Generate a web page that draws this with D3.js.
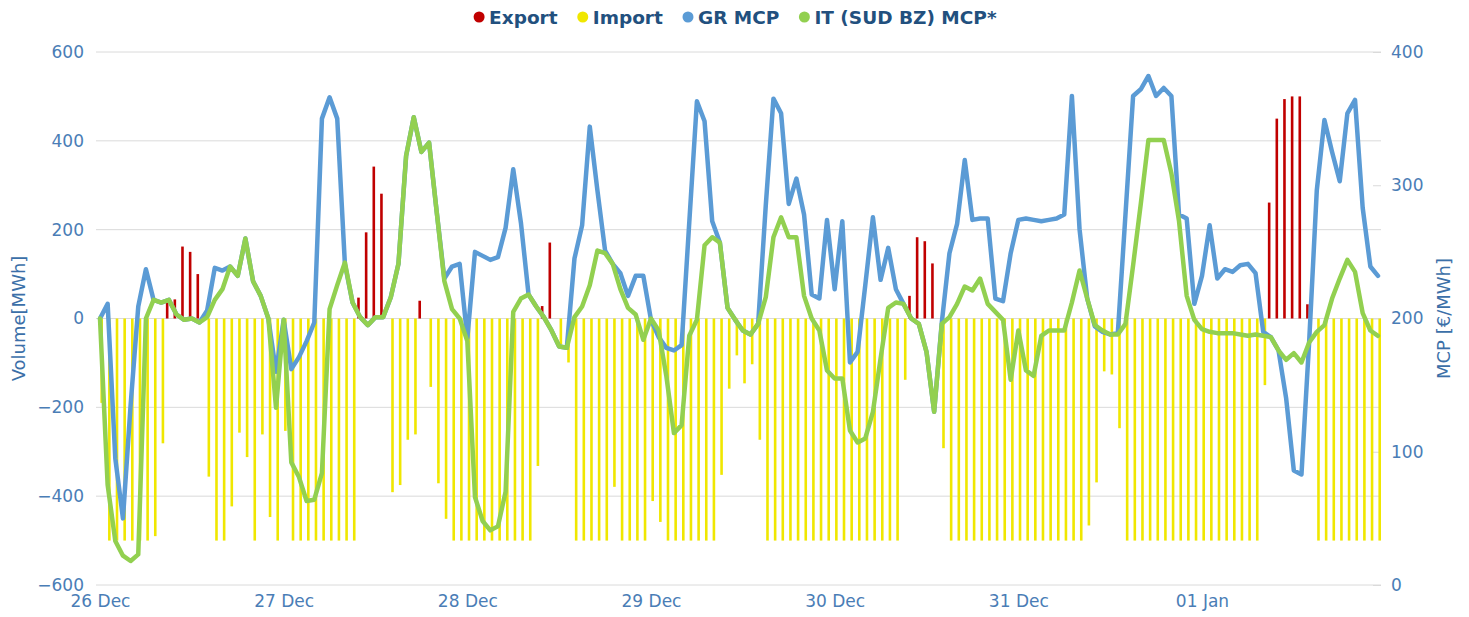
<!DOCTYPE html>
<html>
<head>
<meta charset="utf-8">
<script src="https://cdn.jsdelivr.net/npm/d3@7"></script>
<style>
  body { margin: 0; background: #fff; }
  svg text { font-family: "DejaVu Sans", "Open Sans", sans-serif; }
</style>
</head>
<body>
<svg id="chart"></svg>
<script>
// hourly values, 26 Dec 00:00 .. 01 Jan 23:00
const dayLabels = ['26 Dec', '27 Dec', '28 Dec', '29 Dec', '30 Dec', '31 Dec', '01 Jan']
const leftTicks = [-600, -400, -200, 0, 200, 400, 600]
const rightTicks = [0, 100, 200, 300, 400]

const exportMW = [
  0, 0, 0, 0, 0, 0, 0, 0, 0, 43,
  43, 162, 150, 100, 0, 0, 0, 0, 0, 0,
  0, 0, 0, 0, 0, 0, 0, 0, 0, 0,
  0, 0, 0, 0, 47, 194, 342, 281, 0, 0,
  0, 0, 40, 0, 0, 0, 0, 0, 0, 0,
  0, 0, 0, 0, 0, 0, 0, 0, 28, 171,
  0, 0, 0, 0, 0, 0, 0, 0, 0, 0,
  0, 0, 0, 0, 0, 0, 0, 0, 0, 0,
  0, 0, 0, 0, 0, 0, 0, 0, 0, 0,
  0, 0, 0, 0, 0, 0, 0, 0, 0, 0,
  0, 0, 0, 0, 0, 0, 51, 183, 174, 124,
  0, 0, 0, 0, 0, 0, 0, 0, 0, 0,
  0, 0, 0, 0, 0, 0, 0, 0, 0, 0,
  0, 0, 0, 0, 0, 0, 0, 0, 0, 0,
  0, 0, 0, 0, 0, 0, 0, 0, 0, 0,
  0, 0, 0, 261, 450, 494, 500, 500, 32, 0,
  0, 0, 0, 0, 0, 0, 0, 0
]

const importMW = [
  -190, -500, -500, -500, -500, -500, -500, -490, -281, 0,
  0, 0, 0, 0, -356, -500, -500, -423, -257, -312,
  -500, -261, -447, -500, -253, -500, -500, -500, -500, -500,
  -500, -500, -500, -500, 0, 0, 0, 0, -391, -375,
  -273, -261, 0, -154, -371, -451, -500, -500, -500, -500,
  -500, -500, -500, -500, -500, -500, -500, -332, 0, 0,
  -59, -99, -500, -500, -500, -500, -500, -379, -500, -500,
  -500, -500, -411, -458, -500, -500, -500, -500, -500, -500,
  -500, -352, -158, -83, -146, -103, -273, -500, -500, -500,
  -500, -500, -500, -500, -500, -500, -500, -500, -500, -500,
  -500, -500, -500, -500, -500, -138, 0, 0, 0, 0,
  -292, -500, -500, -500, -500, -500, -500, -500, -500, -500,
  -500, -500, -500, -500, -500, -500, -500, -500, -500, -466,
  -369, -119, -126, -247, -500, -500, -500, -500, -500, -500,
  -500, -500, -500, -500, -500, -500, -500, -500, -500, -500,
  -500, -500, -150, 0, 0, 0, 0, 0, 0, -500,
  -500, -500, -500, -500, -500, -500, -500, -500
]

const grMCP = [
  200, 211, 95, 50, 135, 209, 237, 214, 212, 214,
  203, 199, 200, 197, 206, 238, 236, 239, 232, 260,
  228, 217, 200, 160, 199, 162, 171, 183, 197, 350,
  366, 350, 241, 212, 201, 195, 201, 201, 216, 241,
  322, 351, 325, 332, 280, 230, 239, 241, 185, 250,
  247, 244, 246, 268, 312, 272, 218, 209, 201, 191,
  179, 178, 245, 270, 344, 296, 251, 241, 234, 217,
  232, 232, 199, 186, 178, 176, 180, 272, 363, 348,
  273, 257, 208, 199, 191, 188, 196, 285, 365, 354,
  286, 305, 278, 218, 215, 274, 222, 273, 167, 175,
  225, 276, 229, 253, 222, 211, 200, 196, 175, 130,
  197, 249, 271, 319, 274, 275, 275, 215, 213, 249,
  274, 275, 274, 273, 274, 275, 278, 367, 267, 215,
  194, 190, 188, 189, 278, 367, 372, 382, 367, 373,
  367, 278, 275, 211, 232, 270, 230, 237, 235, 240,
  241, 234, 190, 186, 176, 140, 86, 83, 182, 296,
  349, 325, 303, 354, 364, 283, 239, 232
]

const itMCP = [
  200, 75, 33, 22, 18, 23, 200, 214, 212, 214,
  203, 199, 200, 197, 201, 214, 222, 239, 232, 260,
  228, 217, 200, 133, 199, 92, 81, 63, 64, 84,
  207, 225, 242, 212, 201, 195, 201, 201, 216, 241,
  322, 351, 325, 332, 280, 228, 207, 200, 183, 66,
  48, 41, 44, 70, 205, 215, 218, 209, 201, 191,
  179, 178, 201, 209, 225, 251, 249, 241, 222, 208,
  203, 184, 200, 191, 157, 114, 120, 187, 199, 255,
  261, 257, 208, 199, 191, 188, 196, 216, 261, 276,
  261, 261, 217, 200, 191, 161, 155, 155, 116, 107,
  110, 130, 170, 208, 212, 211, 200, 196, 175, 130,
  196, 201, 211, 224, 221, 230, 211, 205, 199, 154,
  191, 161, 157, 187, 191, 191, 191, 212, 236, 215,
  195, 191, 188, 188, 196, 240, 286, 334, 334, 334,
  309, 273, 217, 199, 192, 190, 189, 189, 189, 188,
  187, 188, 187, 186, 176, 169, 174, 167, 182, 190,
  195, 215, 230, 244, 235, 204, 191, 187
]

const width = 1469
const height = 617
const plot = { left: 100, right: 1378, top: 52, bottom: 585 }

const colors = {
  exp: '#c00000',
  imp: '#f0e700',
  gr: '#5b9bd5',
  it: '#92d050',
  tick: '#4a7db6',
  title: '#3b6fa8',
  legend: '#22507e',
  grid: '#dadada'
}

var svg = d3.select('svg#chart').attr('width', width).attr('height', height)

var x = d3.scaleLinear().domain([0, grMCP.length - 1]).range([plot.left, plot.right])
var yL = d3.scaleLinear().domain([-600, 600]).range([plot.bottom, plot.top])
var yR = d3.scaleLinear().domain([0, 400]).range([plot.bottom, plot.top])

// grid lines
svg.append('g')
  .selectAll('line').data(leftTicks)
  .enter().append('line')
  .attr('x1', plot.left - 4).attr('x2', plot.right + 3)
  .attr('y1', d => yL(d)).attr('y2', d => yL(d))
  .attr('stroke', colors.grid).attr('stroke-width', 1)

// left axis
var leftAxis = svg.append('g')
  .attr('transform', 'translate(' + (plot.left - 4) + ',0)')
  .call(d3.axisLeft(yL).tickValues(leftTicks).tickSize(0).tickPadding(12))
leftAxis.select('.domain').remove()
leftAxis.selectAll('text')
  .attr('fill', colors.tick).style('font-size', '17px')

// right axis
var rightAxis = svg.append('g')
  .attr('transform', 'translate(' + (plot.right + 3) + ',0)')
  .call(d3.axisRight(yR).tickValues(rightTicks).tickSize(-8).tickPadding(10))
rightAxis.select('.domain').remove()
rightAxis.selectAll('line').attr('stroke', colors.grid)
rightAxis.selectAll('text')
  .attr('fill', colors.tick).style('font-size', '17px')

// x axis day labels
var bottomAxis = svg.append('g')
  .attr('transform', 'translate(0,' + plot.bottom + ')')
  .call(d3.axisBottom(x)
    .tickValues(dayLabels.map((d, i) => i * 24))
    .tickFormat((d, i) => dayLabels[i])
    .tickSize(0).tickPadding(10))
bottomAxis.select('.domain').remove()
bottomAxis.selectAll('text')
  .attr('fill', colors.tick).style('font-size', '17px')

// axis titles
svg.append('text')
  .attr('transform', 'translate(25,' + yL(0) + ') rotate(-90)')
  .attr('text-anchor', 'middle')
  .attr('fill', colors.title)
  .style('font-size', '18px')
  .text('Volume[MWh]')

svg.append('text')
  .attr('transform', 'translate(1450,' + yL(0) + ') rotate(-90)')
  .attr('text-anchor', 'middle')
  .attr('fill', colors.title)
  .style('font-size', '18px')
  .text('MCP [€/MWh]')

// columns: export on the left half of each hour, import on the right half
const barW = 2.6
const off = 1.7

svg.append('g').selectAll('rect')
  .data(exportMW.map((v, i) => [i, v]).filter(d => d[1] !== 0))
  .enter().append('rect')
  .attr('x', d => x(d[0]) - off - barW / 2)
  .attr('y', d => yL(d[1]))
  .attr('width', barW)
  .attr('height', d => yL(0) - yL(d[1]))
  .attr('fill', colors.exp)

svg.append('g').selectAll('rect')
  .data(importMW.map((v, i) => [i, v]).filter(d => d[1] !== 0))
  .enter().append('rect')
  .attr('x', d => x(d[0]) + off - barW / 2)
  .attr('y', yL(0))
  .attr('width', barW)
  .attr('height', d => yL(d[1]) - yL(0))
  .attr('fill', colors.imp)

// price lines on the right axis
var line = d3.line()
  .x((d, i) => x(i))
  .y(d => yR(d))

svg.append('path')
  .datum(grMCP)
  .attr('d', line)
  .attr('fill', 'none')
  .attr('stroke', colors.gr)
  .attr('stroke-width', 4.5)
  .attr('stroke-linejoin', 'round')
  .attr('stroke-linecap', 'round')

svg.append('path')
  .datum(itMCP)
  .attr('d', line)
  .attr('fill', 'none')
  .attr('stroke', colors.it)
  .attr('stroke-width', 4.5)
  .attr('stroke-linejoin', 'round')
  .attr('stroke-linecap', 'round')

// legend: items laid out from their measured text widths, centred over the chart
const legendNames = ['Export', 'Import', 'GR MCP', 'IT (SUD BZ) MCP*']
const legendColors = [colors.exp, colors.imp, colors.gr, colors.it]
const gap = 25

var legend = svg.append('g').selectAll('g').data(legendNames)
  .enter().append('g')

legend.append('circle')
  .attr('r', 5.5)
  .attr('fill', (d, i) => legendColors[i])

legend.append('text')
  .attr('x', 10)
  .attr('dy', '0.36em')
  .attr('fill', colors.legend)
  .style('font-size', '18.5px')
  .style('font-weight', 'bold')
  .text(d => d)

var pos = []
var cursor = 0
legend.select('text').each(function() {
  pos.push(cursor)
  cursor += 10 + this.getBBox().width + gap
})
var total = cursor - gap + 6
var start = 735 - total / 2 + 6
legend.attr('transform', (d, i) => 'translate(' + (start + pos[i]) + ',17)')
</script>
</body>
</html>
